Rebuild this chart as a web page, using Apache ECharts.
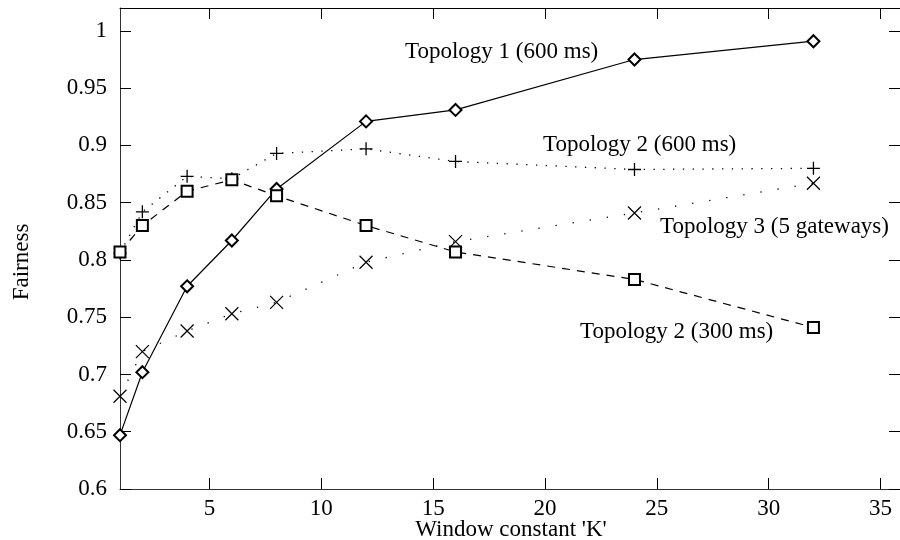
<!DOCTYPE html>
<html>
	<head>
		<meta charset="utf-8">
		<title></title>
		<style type="text/css">
			* {
				margin: 0;
				padding: 0;
			}

			html,
			body {
				width: 100%;
				height: 100%;
				background: #fff;
			}

			#chart {
				width: 900px;
				height: 540px;
			}
		</style>
	</head>
	<body>
		<div id="chart"></div>
		<script src="https://cdn.jsdelivr.net/npm/echarts@6/dist/echarts.min.js"></script>
		<script>
			// window constant K
			var kValues = [1, 2, 4, 6, 8, 12, 16, 24, 32]
			var topo1_600 = [0.647, 0.702, 0.777, 0.817, 0.862, 0.921, 0.931, 0.975, 0.991]
			var topo2_600 = [0.806, 0.842, 0.873, 0.871, 0.893, 0.897, 0.886, 0.879, 0.880]
			var topo3_gw = [0.681, 0.720, 0.738, 0.753, 0.763, 0.798, 0.816, 0.841, 0.867]
			var topo2_300 = [0.807, 0.830, 0.860, 0.870, 0.856, 0.830, 0.807, 0.783, 0.741]

			var xTicks = [5, 10, 15, 20, 25, 30, 35]
			var yTicks = [0.6, 0.65, 0.7, 0.75, 0.8, 0.85, 0.9, 0.95, 1]

			var font = "'Liberation Serif', 'Times New Roman', serif"
			var fontSize = 23

			var plusPath = 'path://M6,0 L6,12 M0,6 L12,6'
			var crossPath = 'path://M0,0 L12,12 M12,0 L0,12'

			function pairs(ys) {
				var out = []
				for (let i = 0; i < kValues.length; i++) {
					out.push([kValues[i], ys[i]])
				}
				return out
			}

			function text(str, x, y) {
				return {
					type: 'text',
					x: x,
					y: y,
					style: {
						text: str,
						font: fontSize + 'px ' + font,
						fill: '#000',
						textAlign: 'left',
						textVerticalAlign: 'middle'
					}
				}
			}

			var tickStyle = {
				inside: true,
				length: 11,
				lineStyle: { color: '#000', width: 1 }
			}

			var myChart = echarts.init(document.getElementById('chart'))
			var option = {
				backgroundColor: '#fff',
				animation: false,
				grid: {
					left: 120,
					top: 8,
					right: 0,
					bottom: 51
				},
				xAxis: [{
					type: 'value',
					min: 1,
					max: 35.87,
					position: 'bottom',
					axisLine: { show: true, onZero: false, lineStyle: { color: '#333', width: 1 } },
					axisTick: Object.assign({ customValues: xTicks }, tickStyle),
					axisLabel: {
						customValues: xTicks,
						margin: 8,
						color: '#000',
						fontFamily: font,
						fontSize: fontSize
					},
					splitLine: { show: false }
				}, {
					type: 'value',
					min: 1,
					max: 35.87,
					position: 'top',
					axisLine: { show: true, onZero: false, lineStyle: { color: '#000', width: 1 } },
					axisTick: Object.assign({ customValues: xTicks }, tickStyle),
					axisLabel: { show: false },
					splitLine: { show: false }
				}],
				yAxis: [{
					type: 'value',
					min: 0.6,
					max: 1.02,
					position: 'left',
					axisLine: { show: true, onZero: false, lineStyle: { color: '#333', width: 1 } },
					axisTick: Object.assign({ customValues: yTicks }, tickStyle),
					axisLabel: {
						customValues: yTicks,
						margin: 13,
						color: '#000',
						fontFamily: font,
						fontSize: fontSize,
						formatter: function(v) {
							return String(+Number(v).toFixed(2))
						}
					},
					splitLine: { show: false }
				}, {
					type: 'value',
					min: 0.6,
					max: 1.02,
					position: 'right',
					axisLine: { show: false },
					axisTick: Object.assign({ customValues: yTicks }, tickStyle),
					axisLabel: { show: false },
					splitLine: { show: false }
				}],
				series: [{
					name: 'Topology 1 (600 ms)',
					type: 'line',
					data: pairs(topo1_600),
					symbol: 'emptyDiamond',
					symbolSize: 12,
					itemStyle: { color: '#000', borderWidth: 1.1 },
					lineStyle: { color: '#000', width: 1.2, type: 'solid' }
				}, {
					name: 'Topology 2 (600 ms)',
					type: 'line',
					data: pairs(topo2_600),
					symbol: plusPath,
					symbolSize: 13,
					itemStyle: { color: '#000', borderColor: '#000', borderWidth: 1.3 },
					lineStyle: { color: '#000', width: 1.3, type: [1.3, 8.5] }
				}, {
					name: 'Topology 3 (5 gateways)',
					type: 'line',
					data: pairs(topo3_gw),
					symbol: crossPath,
					symbolSize: 13,
					itemStyle: { color: '#000', borderColor: '#000', borderWidth: 1.2 },
					lineStyle: { color: '#000', width: 1.3, type: [1.3, 16] }
				}, {
					name: 'Topology 2 (300 ms)',
					type: 'line',
					data: pairs(topo2_300),
					symbol: 'emptyRect',
					symbolSize: 11,
					itemStyle: { color: '#000', borderWidth: 1.1 },
					lineStyle: { color: '#000', width: 1.2, type: [8, 7] }
				}],
				graphic: [
					text('Topology 1 (600 ms)', 405, 52),
					text('Topology 2 (600 ms)', 543, 145),
					text('Topology 3 (5 gateways)', 660, 227),
					text('Topology 2 (300 ms)', 580, 332),
					{
						type: 'text',
						x: 511,
						y: 530,
						style: {
							text: "Window constant 'K'",
							font: fontSize + 'px ' + font,
							fill: '#000',
							textAlign: 'center',
							textVerticalAlign: 'middle'
						}
					},
					{
						type: 'text',
						x: 22,
						y: 262,
						rotation: Math.PI / 2,
						style: {
							text: 'Fairness',
							font: fontSize + 'px ' + font,
							fill: '#000',
							textAlign: 'center',
							textVerticalAlign: 'middle'
						}
					}
				]
			}
			myChart.setOption(option)
		</script>
	</body>
</html>
